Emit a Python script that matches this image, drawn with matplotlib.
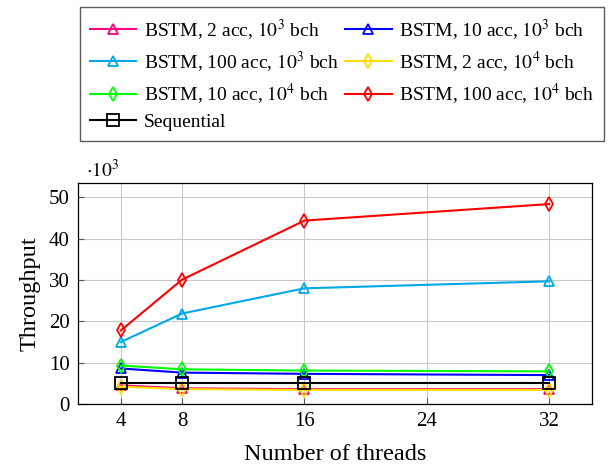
import matplotlib
matplotlib.use("Agg")
from matplotlib import pyplot as plt

plt.rcParams['font.family'] = ['Liberation Serif', 'DejaVu Serif']
plt.rcParams['mathtext.fontset'] = 'stix'

threads = [4, 8, 16, 32]
series_names = [
    "BSTM, 2 acc, $10^3$ bch",
    "BSTM, 10 acc, $10^3$ bch",
    "BSTM, 100 acc, $10^3$ bch",
    "BSTM, 2 acc, $10^4$ bch",
    "BSTM, 10 acc, $10^4$ bch",
    "BSTM, 100 acc, $10^4$ bch",
    "Sequential",
]
pink_2acc_1e3 = [4.5, 3.8, 3.6, 3.6]
blue_10acc_1e3 = [8.6, 7.6, 7.3, 7.0]
cyan_100acc_1e3 = [15.0, 21.9, 28.0, 29.7]
yellow_2acc_1e4 = [4.2, 3.6, 3.4, 3.4]
green_10acc_1e4 = [9.3, 8.4, 8.1, 7.9]
red_100acc_1e4 = [17.8, 30.1, 44.4, 48.4]
sequential = [5.0, 5.0, 5.0, 5.0]

values = [pink_2acc_1e3, blue_10acc_1e3, cyan_100acc_1e3, yellow_2acc_1e4,
          green_10acc_1e4, red_100acc_1e4, sequential]
colors = ['#ff0080', '#0000ff', '#00a8e8', '#ffe000', '#00ff00', '#ff0000', '#000000']
markers = ['^', '^', '^', 'd', 'd', 'd', 's']
zorders = [3, 3, 3, 4, 3, 3, 5]

fig = plt.figure(figsize=(6.08, 4.71), dpi=100)
ax = fig.add_axes([78 / 608, 1 - 404 / 471, (592 - 78) / 608, (404 - 183) / 471])

handles = []
for name, ys, c, m, z in zip(series_names, values, colors, markers, zorders):
    ms = 8 if m == 's' else 7
    h, = ax.plot(threads, ys, color=c, marker=m, markersize=ms, markerfacecolor='none',
                 markeredgecolor=c, markeredgewidth=1.3, linewidth=1.5, label=name, zorder=z)
    handles.append(h)

ax.set_xlim(1.2, 34.8)
ax.set_ylim(0, 53.5)
ax.set_xticks([4, 8, 16, 24, 32])
ax.set_yticks([0, 10, 20, 30, 40, 50])
ax.grid(True, color='#c8c8c8', linewidth=0.8)
ax.set_axisbelow(True)
ax.tick_params(direction='in', length=4, labelsize=15, color='#555555', pad=6)
for sp in ax.spines.values():
    sp.set_linewidth(0.9)
ax.set_xlabel("Number of threads", fontsize=17.5, labelpad=9)
ax.set_ylabel("Throughput", fontsize=17.5, labelpad=6)
ax.text(0.016, 1.01, r"$\cdot 10^3$", transform=ax.transAxes, fontsize=14, va='bottom', ha='left')

# pgfplots fills the legend row by row, matplotlib column by column
order = [0, 2, 4, 6, 1, 3, 5]
leg = fig.legend(handles=[handles[i] for i in order], loc='upper left',
                 bbox_to_anchor=(80 / 608, 1 - 7 / 471),
                 ncol=2, fontsize=14, frameon=True, fancybox=False, edgecolor='#333333',
                 handlelength=2.4, handletextpad=0.4, columnspacing=0.3, labelspacing=0.38,
                 borderpad=0.5, borderaxespad=0)
leg.get_frame().set_linewidth(1.0)

fig.savefig("out.png", dpi=100)
